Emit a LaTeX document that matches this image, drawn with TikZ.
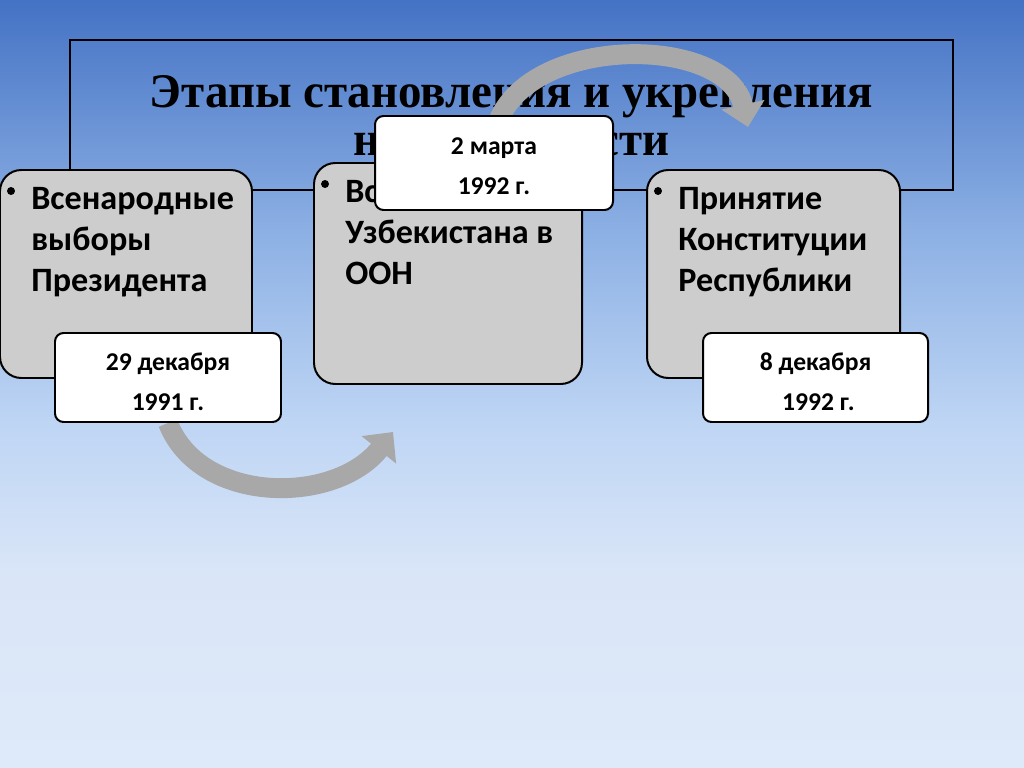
\documentclass[tikz,border=0pt]{standalone}
\usepackage{fontspec}
\usepackage{graphicx}
\setmainfont{Carlito}
\newfontfamily\titlefont{Liberation Serif}
\usetikzlibrary{arrows.meta,positioning}
\definecolor{stagegray}{RGB}{205,205,205}
\definecolor{arrowgray}{RGB}{168,168,168}
\newcommand{\pxu}{0.703125pt}
% stops between 25bp (bottom edge) and 75bp (top edge)
\pgfdeclareverticalshading{slidebg}{100bp}{%
  rgb(0bp)=(0.871,0.914,0.976);
  rgb(25bp)=(0.871,0.914,0.976);
  rgb(37.5bp)=(0.855,0.902,0.973);
  rgb(47.5bp)=(0.745,0.835,0.957);
  rgb(60bp)=(0.549,0.690,0.894);
  rgb(75bp)=(0.267,0.447,0.769);
  rgb(100bp)=(0.267,0.447,0.769)}
\pgfdeclarelayer{back}
\pgfdeclarelayer{arrows}
\pgfsetlayers{back,arrows,main}
\begin{document}
\begin{tikzpicture}[x=\pxu, y=-\pxu,
    stagebox/.style={draw=black, line width=1.4pt, fill=stagegray, rounded corners=15pt},
    datebox/.style={draw=black, line width=1.4pt, fill=white, rounded corners=6pt},
    datetext/.style={align=center, inner sep=0pt, font=\bfseries\fontsize{18}{28}\selectfont},
    stagetext/.style={anchor=north west, inner sep=0pt, align=left,
      font=\bfseries\fontsize{24}{28.8}\selectfont, xshift=32*\pxu, yshift=-18*\pxu},
    bendarrow/.style={arrowgray, line width=14pt, -{Triangle[length=16pt,width=30pt]}}]
  \useasboundingbox (0,0) rectangle (1024,768);
  % Background and title
  \begin{pgfonlayer}{back}
    \shade[shading=slidebg] (0,0) rectangle (1024,768);
    \node[draw=black, line width=2pt, minimum width=883*\pxu, minimum height=150*\pxu] (titlebox) at (511.5,115) {};
    \node[font=\titlefont\bfseries\fontsize{34}{34}\selectfont, align=center, inner sep=0pt] (title) at (511.5,116)
      {\scalebox{0.97}[1]{Этапы становления и укрепления}\\\scalebox{0.97}[1]{независимости}};
  \end{pgfonlayer}
  % Stages
  \node[stagebox, minimum width=252*\pxu, minimum height=208*\pxu] (stage1) at (126,274) {};
  \node[stagebox, minimum width=268*\pxu, minimum height=221*\pxu] (stage2) at (448,273.5) {};
  \node[stagebox, minimum width=253*\pxu, minimum height=208*\pxu] (stage3) at (773.5,274) {};
  \foreach \s in {stage1,stage2,stage3} {
    \fill (\s.north west) ++(12,22) circle (2.8pt);
  }
  \node[stagetext] (text1) at (stage1.north west) {Всенародные\\выборы\\Президента};
  \node[stagetext] (text2) at (stage2.north west) {Вступление\\Узбекистана в\\ООН};
  \node[stagetext] (text3) at (stage3.north west) {Принятие\\Конституции\\Республики};
  % Dates
  \node[datebox, minimum width=226*\pxu, minimum height=89*\pxu] (date1) at (168,377.5) {};
  \node[datebox, minimum width=238*\pxu, minimum height=94*\pxu] (date2) at (494,163) {};
  \node[datebox, minimum width=225*\pxu, minimum height=89*\pxu] (date3) at (815.5,377.5) {};
  \node[datetext] (datetext1) at ([yshift=-3pt]date1.center) {29 декабря\\1991 г.};
  \node[datetext] (datetext2) at ([yshift=-2pt]date2.center) {2 марта\\1992 г.};
  \node[datetext] (datetext3) at ([yshift=-3pt]date3.center) {8 декабря\\\ 1992 г.};
  % Curved arrows
  \begin{pgfonlayer}{arrows}
    \coordinate (lowtip) at (393,432);
    \coordinate (hightip) at (748,127);
    \draw[bendarrow] (date1.south) .. controls (200,505) and (335,505) .. (lowtip);
    \draw[bendarrow] (date2.center) .. controls (475,35) and (725,25) .. (hightip);
  \end{pgfonlayer}
\end{tikzpicture}
\end{document}
